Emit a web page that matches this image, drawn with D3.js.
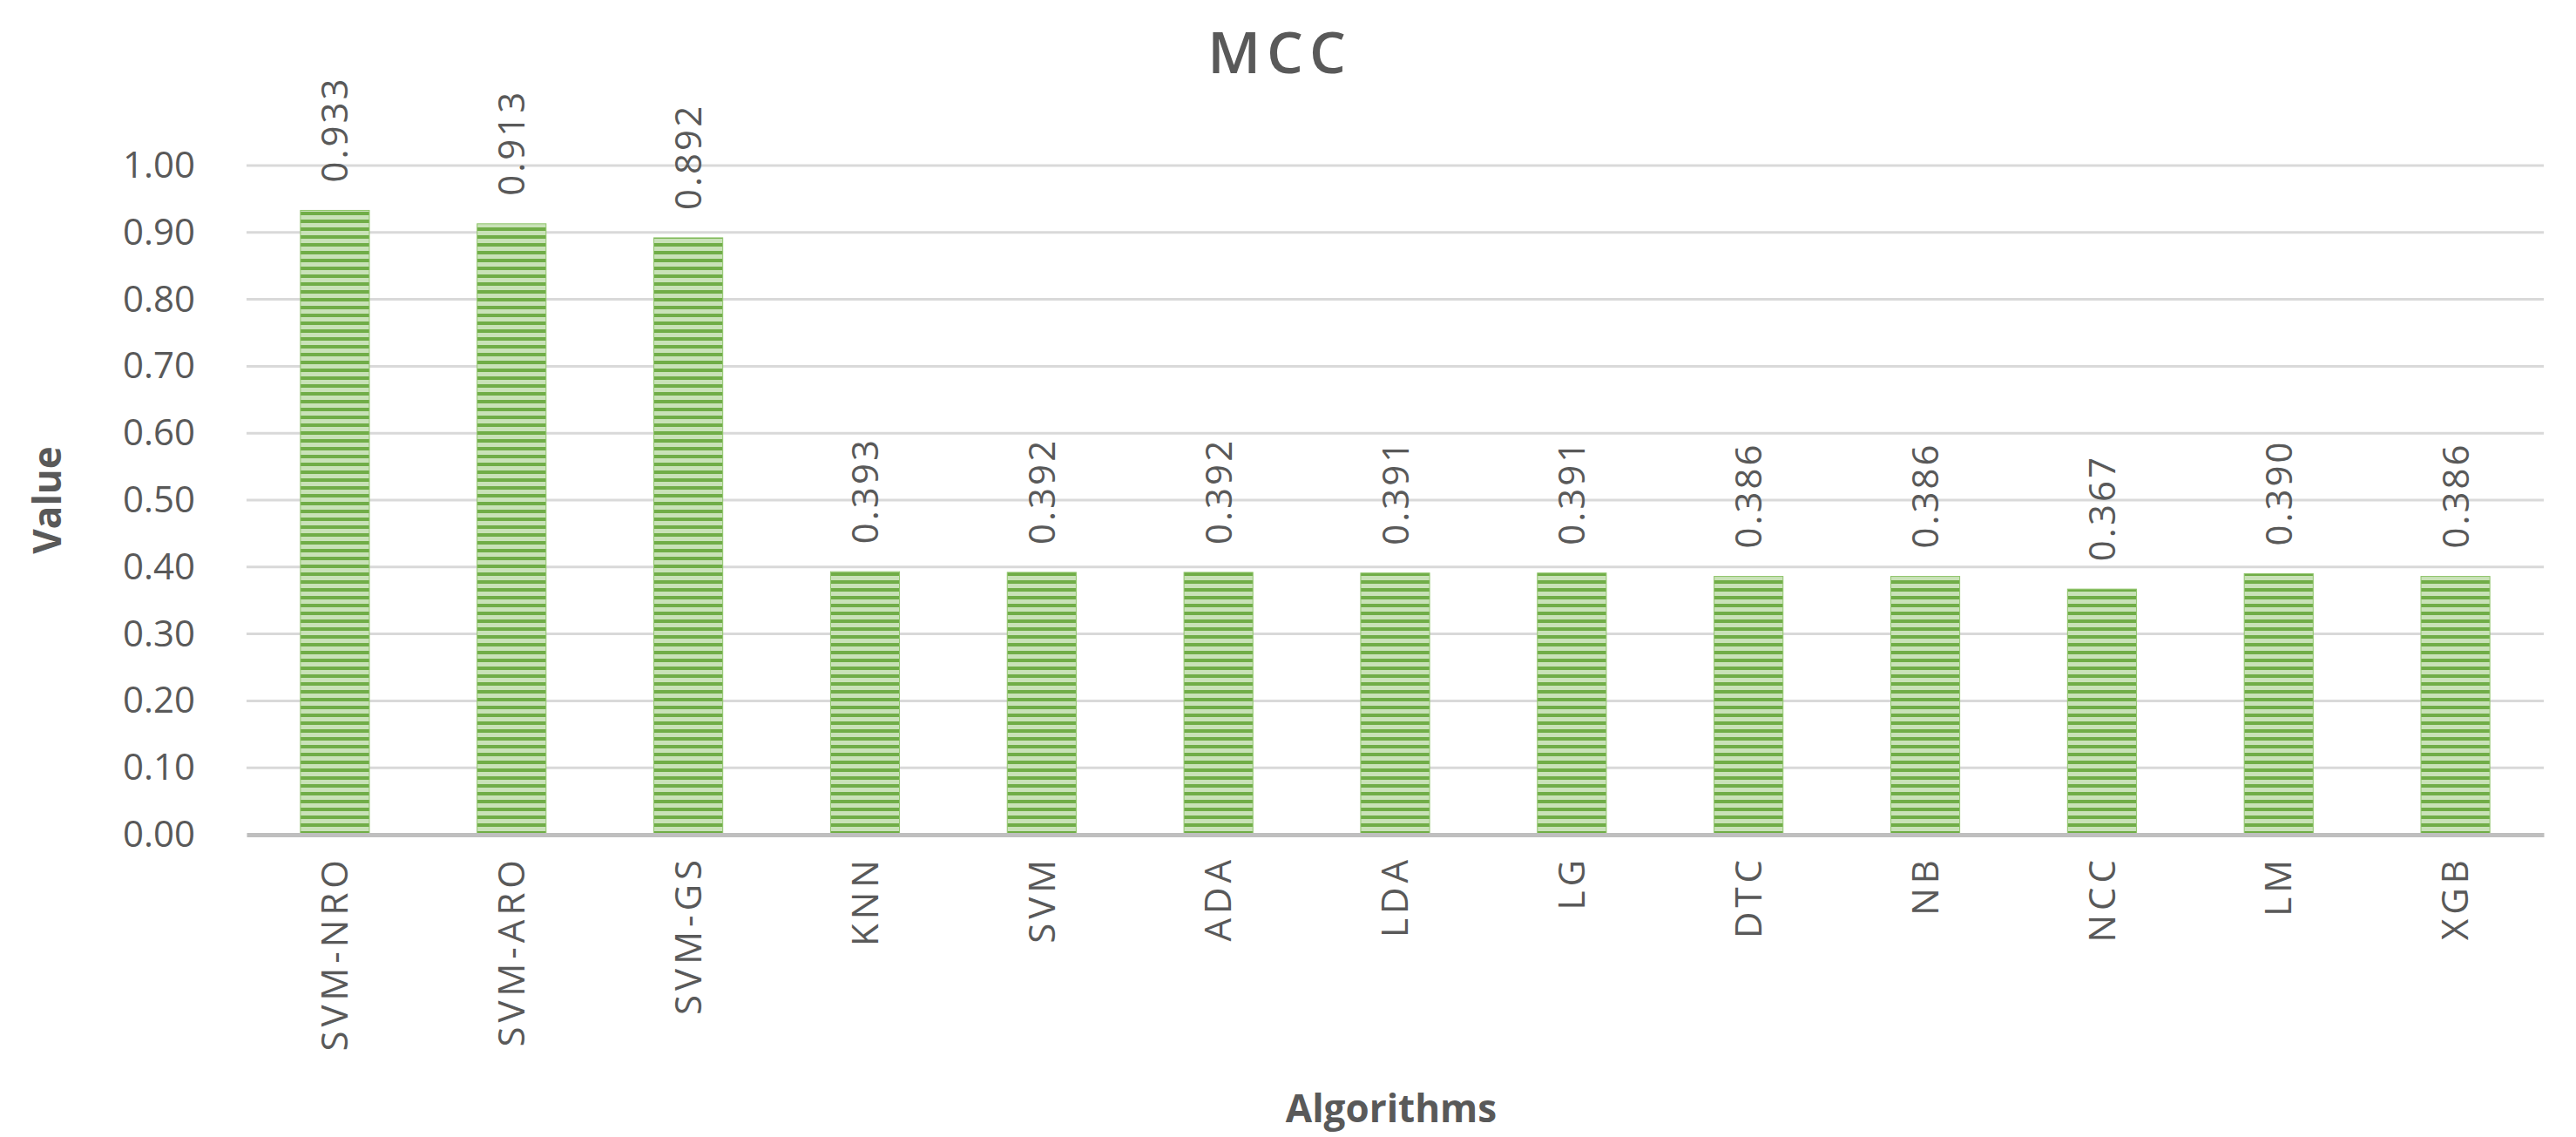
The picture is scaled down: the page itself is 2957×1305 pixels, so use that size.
<!DOCTYPE html>
<html>
<head>
<meta charset="utf-8">
<script src="https://cdn.jsdelivr.net/npm/d3@7"></script>
<style>
  body { margin: 0; background: #fff; }
  text { font-family: "Open Sans", "Noto Sans", sans-serif; fill: #595959; }
</style>
</head>
<body>
<svg id="chart"></svg>
<script>
const algorithms = ["SVM-NRO", "SVM-ARO", "SVM-GS", "KNN", "SVM", "ADA", "LDA", "LG", "DTC", "NB", "NCC", "LM", "XGB"];
const mccValues = [0.933, 0.913, 0.892, 0.393, 0.392, 0.392, 0.391, 0.391, 0.386, 0.386, 0.367, 0.390, 0.386];
const yTicks = [0, 0.1, 0.2, 0.3, 0.4, 0.5, 0.6, 0.7, 0.8, 0.9, 1.0];

const width = 2957, height = 1305;
const margin = {top: 190, right: 37, bottom: 347, left: 283};

const svg = d3.select("#chart")
    .attr("width", width)
    .attr("height", height);

// striped fill like the original
const defs = svg.append("defs");
const pat = defs.append("pattern")
    .attr("id", "stripes")
    .attr("patternUnits", "userSpaceOnUse")
    .attr("width", 10)
    .attr("height", 9);
pat.append("rect").attr("width", 10).attr("height", 9).attr("fill", "#c9e2b8");
pat.append("rect").attr("width", 10).attr("height", 4).attr("fill", "#70ad47");

const x = d3.scaleBand()
    .domain(algorithms)
    .range([margin.left, width - margin.right])
    .paddingInner(0.61)
    .paddingOuter(0.305);

const y = d3.scaleLinear()
    .domain([0, 1])
    .range([height - margin.bottom, margin.top]);

// gridlines
svg.append("g")
    .selectAll("line")
    .data(yTicks.slice(1))
    .enter()
    .append("line")
    .attr("x1", margin.left)
    .attr("x2", width - margin.right)
    .attr("y1", d => y(d))
    .attr("y2", d => y(d))
    .attr("stroke", "#d9d9d9")
    .attr("stroke-width", 3);

// y axis labels
const yAxis = svg.append("g")
    .attr("transform", "translate(" + (margin.left - 56) + ",0)")
    .call(d3.axisLeft(y).tickValues(yTicks).tickFormat(d3.format(".2f")).tickSize(0));
yAxis.select(".domain").remove();
yAxis.selectAll("text")
    .style("font-size", "42px")
    .attr("fill", "#595959");

// bars
svg.append("g")
    .selectAll("rect")
    .data(mccValues)
    .enter()
    .append("rect")
    .attr("x", (d, i) => x(algorithms[i]))
    .attr("y", d => y(d))
    .attr("width", x.bandwidth())
    .attr("height", d => y(0) - y(d))
    .attr("fill", "url(#stripes)")
    .attr("stroke", "#8fc46a")
    .attr("stroke-width", 1);

// value labels
svg.append("g")
    .selectAll("text")
    .data(mccValues)
    .enter()
    .append("text")
    .attr("transform", (d, i) =>
        "translate(" + (x(algorithms[i]) + x.bandwidth() / 2 + 15) + "," + (y(d) - 32) + ") rotate(-90)")
    .style("font-size", "42px")
    .style("letter-spacing", "3px")
    .text(d => d.toFixed(3));

// x axis
const xAxis = svg.append("g")
    .attr("transform", "translate(0," + y(0) + ")")
    .call(d3.axisBottom(x).tickSize(0));
xAxis.select(".domain")
    .attr("stroke", "#bfbfbf")
    .attr("stroke-width", 5);
xAxis.selectAll("text")
    .style("font-size", "42px")
    .style("letter-spacing", "5px")
    .attr("fill", "#595959")
    .attr("text-anchor", "end")
    .attr("transform", "rotate(-90)")
    .attr("x", -24)
    .attr("y", 0)
    .attr("dy", "0.35em");

// titles
svg.append("text")
    .attr("x", 1469)
    .attr("y", 84)
    .attr("text-anchor", "middle")
    .style("font-size", "66px")
    .style("letter-spacing", "7px")
    .style("font-weight", "600")
    .text("MCC");

svg.append("text")
    .attr("transform", "translate(70," + y(0.5) + ") rotate(-90)")
    .attr("text-anchor", "middle")
    .style("font-size", "44px")
    .style("font-weight", "bold")
    .text("Value");

svg.append("text")
    .attr("x", 1597)
    .attr("y", 1288)
    .attr("text-anchor", "middle")
    .style("font-size", "44px")
    .style("font-weight", "bold")
    .text("Algorithms");
</script>
</body>
</html>
